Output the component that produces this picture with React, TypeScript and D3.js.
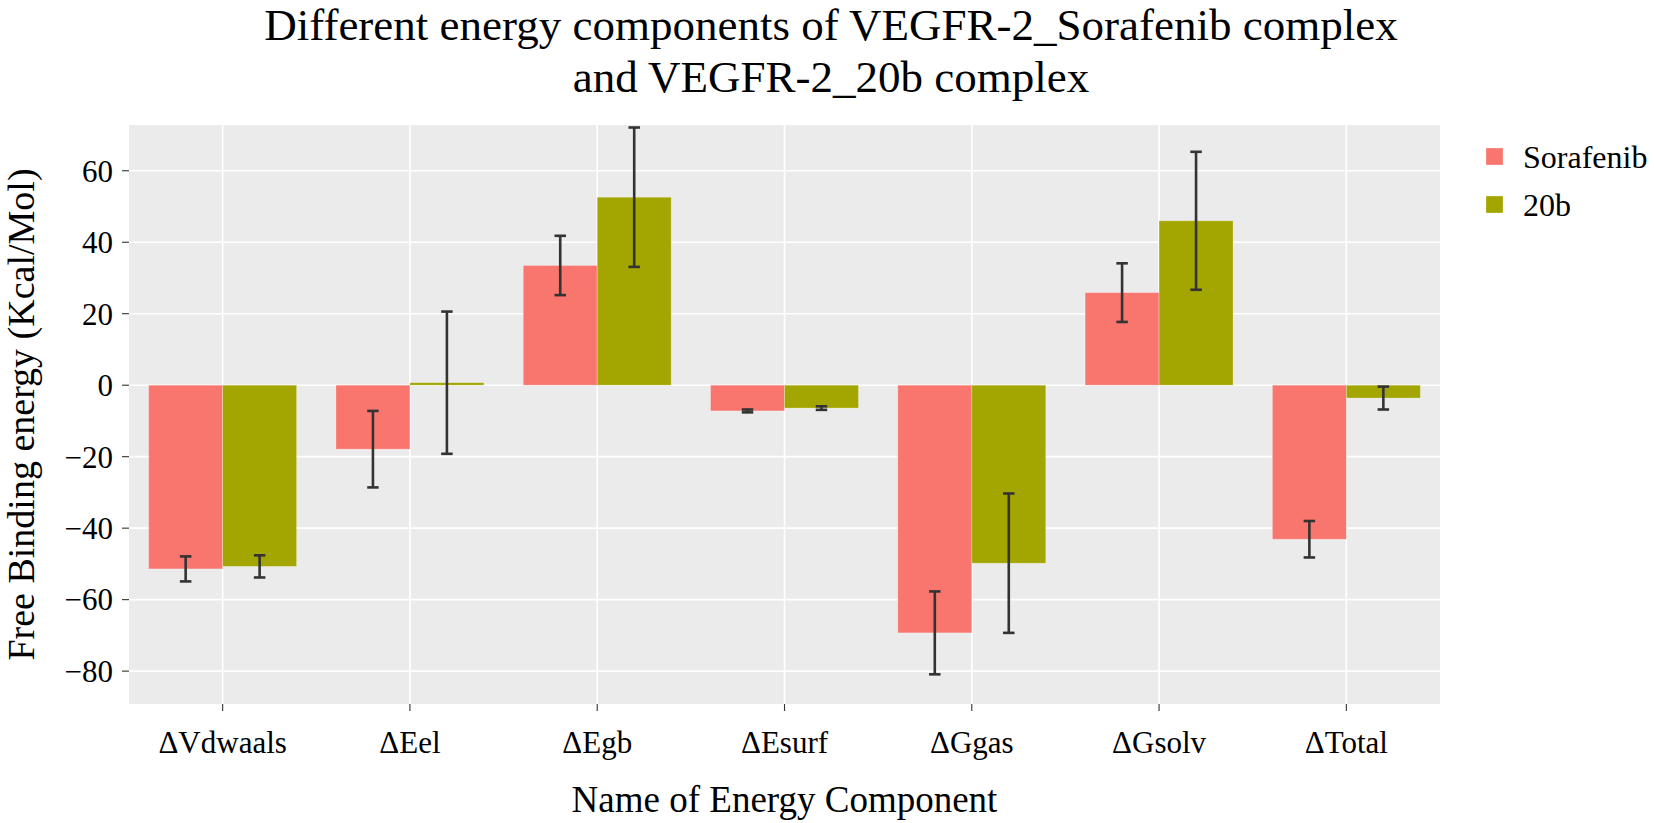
import * as d3 from 'd3';
import React from 'react';

const categories = ['ΔVdwaals', 'ΔEel', 'ΔEgb', 'ΔEsurf', 'ΔGgas', 'ΔGsolv', 'ΔTotal'];
const seriesNames = ['Sorafenib', '20b'];
const sorafenibMean = [-51.4, -17.9, 33.5, -7.2, -69.3, 25.9, -43.1];
const sorafenibSd = [3.5, 10.7, 8.3, 0.4, 11.6, 8.2, 5.1];
const b20Mean = [-50.7, 0.7, 52.6, -6.4, -49.8, 46.0, -3.6];
const b20Sd = [3.1, 19.9, 19.5, 0.5, 19.5, 19.3, 3.2];
const yTicks = [-80, -60, -40, -20, 0, 20, 40, 60];
const colors = ['#F8766D', '#A3A500'];

const W = 1654;
const H = 823;
const panel = { left: 129, right: 1440, top: 125, bottom: 704 };
const font = '"Liberation Serif", "Times New Roman", serif';

const App: React.FC = () => {
  const x0 = d3
    .scaleBand<string>()
    .domain(categories)
    .range([panel.left, panel.right])
    .padding(0);
  const bw = x0.bandwidth();
  const groupW = bw * 0.79;
  const x1 = d3.scaleBand<string>().domain(seriesNames).range([0, groupW]);
  const y = d3.scaleLinear().domain([-89.2, 72.8]).range([panel.bottom, panel.top]);

  const rows = categories.flatMap((c, i) => [
    { cat: c, s: seriesNames[0], v: sorafenibMean[i], sd: sorafenibSd[i], col: colors[0] },
    { cat: c, s: seriesNames[1], v: b20Mean[i], sd: b20Sd[i], col: colors[1] },
  ]);

  const capW = 11.5;
  const midX = (panel.left + panel.right) / 2;
  const midY = (panel.top + panel.bottom) / 2;

  return (
    <svg
      width={W}
      height={H}
      style={{ position: 'absolute', left: 0, top: 0, background: 'white' }}
      fontFamily={font}
    >
      <text x={831} y={40} fontSize={45} textAnchor='middle' fill='black'>
        Different energy components of VEGFR-2_Sorafenib complex
      </text>
      <text x={831} y={92} fontSize={45} textAnchor='middle' fill='black'>
        and VEGFR-2_20b complex
      </text>

      <rect
        x={panel.left}
        y={panel.top}
        width={panel.right - panel.left}
        height={panel.bottom - panel.top}
        fill='#EBEBEB'
      />
      <g stroke='white' strokeWidth={1.6}>
        {yTicks.map((t) => (
          <line key={t} x1={panel.left} x2={panel.right} y1={y(t)} y2={y(t)} />
        ))}
        {categories.map((c) => (
          <line
            key={c}
            x1={x0(c)! + bw / 2}
            x2={x0(c)! + bw / 2}
            y1={panel.top}
            y2={panel.bottom}
          />
        ))}
      </g>

      <g>
        {rows.map((r, i) => {
          const bx = x0(r.cat)! + (bw - groupW) / 2 + x1(r.s)!;
          const top = Math.min(y(r.v), y(0));
          const h = Math.abs(y(r.v) - y(0));
          return (
            <rect
              key={i}
              x={bx}
              y={top}
              width={x1.bandwidth()}
              height={h}
              fill={r.col}
              stroke='rgba(255,255,255,0.35)'
              strokeWidth={0.8}
            />
          );
        })}
      </g>

      <g stroke='#333333' strokeWidth={2.6}>
        {rows.map((r, i) => {
          const cx = x0(r.cat)! + (bw - groupW) / 2 + x1(r.s)! + x1.bandwidth() / 2;
          const yHi = y(r.v + r.sd);
          const yLo = y(r.v - r.sd);
          return (
            <g key={i}>
              <line x1={cx} x2={cx} y1={yHi} y2={yLo} />
              <line x1={cx - capW / 2} x2={cx + capW / 2} y1={yHi} y2={yHi} />
              <line x1={cx - capW / 2} x2={cx + capW / 2} y1={yLo} y2={yLo} />
            </g>
          );
        })}
      </g>

      <g>
        {yTicks.map((t) => (
          <g key={t}>
            <line
              x1={panel.left - 7}
              x2={panel.left}
              y1={y(t)}
              y2={y(t)}
              stroke='#333333'
              strokeWidth={1.1}
            />
            <text
              x={113}
              y={y(t)}
              dy='0.35em'
              fontSize={31}
              textAnchor='end'
              fill='black'
            >
              {t < 0 ? `\u2212${Math.abs(t)}` : String(t)}
            </text>
          </g>
        ))}
      </g>

      <g>
        {categories.map((c) => {
          const cx = x0(c)! + bw / 2;
          return (
            <g key={c}>
              <line
                x1={cx}
                x2={cx}
                y1={panel.bottom}
                y2={panel.bottom + 7}
                stroke='#333333'
                strokeWidth={1.1}
              />
              <text x={cx} y={753} fontSize={31} textAnchor='middle' fill='black'>
                {c}
              </text>
            </g>
          );
        })}
      </g>

      <text x={midX} y={812} fontSize={37} textAnchor='middle' fill='black'>
        Name of Energy Component
      </text>
      <text
        transform={`translate(34,${midY}) rotate(-90)`}
        fontSize={38}
        textAnchor='middle'
        fill='black'
      >
        Free Binding energy (Kcal/Mol)
      </text>

      <g>
        {seriesNames.map((s, i) => (
          <g key={s} transform={`translate(1486,${148 + i * 48})`}>
            <rect
              width={17}
              height={17}
              fill={colors[i]}
              stroke='rgba(255,255,255,0.35)'
              strokeWidth={0.8}
            />
            <text x={37} y={8.5} dy='0.35em' fontSize={32} fill='black'>
              {s}
            </text>
          </g>
        ))}
      </g>
    </svg>
  );
};

export default App;
